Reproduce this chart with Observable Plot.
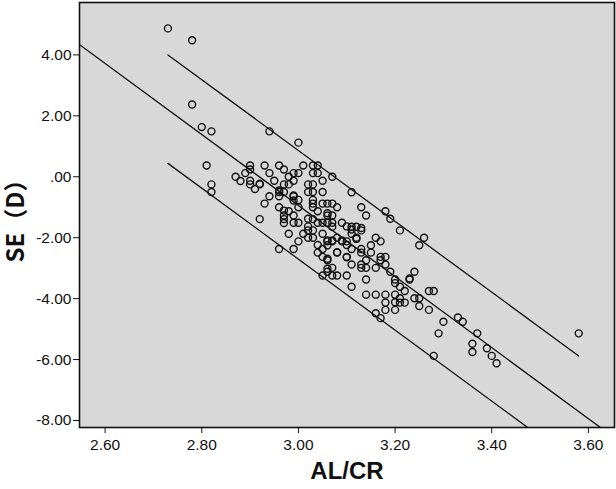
<!DOCTYPE html>
<html>
<head>
<meta charset="utf-8">
<script src="https://cdn.jsdelivr.net/npm/d3@7"></script>
<script src="https://cdn.jsdelivr.net/npm/@observablehq/plot@0.6"></script>
<style>
  html, body { margin: 0; padding: 0; background: #ffffff; }
  #chart { width: 616px; height: 489px; }
  svg { font-family: "Liberation Sans", Arial, sans-serif; }
</style>
</head>
<body>
<div id="chart"></div>
<script>
// AL/CR values (x) and spherical equivalent SE (D) values (y)
const alcr = [
  2.73,2.78,2.78,2.80,2.82,2.81,2.82,2.82,2.94,3.00,3.58,
  2.87,2.88,2.89,2.90,2.90,2.90,2.90,2.91,2.92,2.93,2.94,2.95,2.94,2.93,2.92,
  2.96,2.97,2.98,2.99,3.00,3.01,2.96,2.96,2.97,2.97,2.98,2.99,2.99,2.99,3.00,
  2.96,2.97,2.98,2.97,2.99,2.99,3.00,3.00,2.98,2.96,2.99,3.00,3.01,3.02,3.02,
  3.02,3.02,3.02,3.02,3.03,3.03,3.03,3.04,3.04,3.03,3.03,3.03,3.03,3.03,3.03,
  3.03,3.04,3.04,3.04,3.04,3.05,3.05,3.05,3.05,3.05,3.05,3.05,3.06,3.06,3.06,
  3.06,3.06,3.06,3.06,3.07,3.07,3.07,3.07,3.07,3.07,3.07,3.07,3.08,3.08,3.08,
  3.08,3.09,3.09,3.10,3.10,3.10,3.10,3.11,3.11,3.11,3.11,3.11,3.11,3.12,3.12,
  3.13,3.13,3.13,3.13,3.13,3.13,3.14,3.14,3.14,3.14,3.14,3.15,3.15,3.16,3.16,
  3.16,3.16,3.17,3.17,3.17,3.17,3.18,3.18,3.18,3.18,3.18,3.18,3.19,3.19,3.20,
  3.20,3.20,3.20,3.21,3.21,3.21,3.21,3.22,3.22,3.23,3.24,3.24,3.25,3.25,3.25,
  3.26,3.27,3.27,3.28,3.28,3.29,3.30,3.33,3.34,3.37,3.36,3.36,3.39,3.40,3.41,
  2.92,2.96,2.97,2.97,2.99,3.06,3.10,3.11,3.13,3.06,3.07,3.09,3.12,3.06,3.08,
  3.10,3.06,3.05,3.20,3.23
];
const se = [
  4.87,4.48,2.37,1.63,1.49,0.37,-0.25,-0.50,1.49,1.12,-5.14,
  0.00,-0.14,0.12,0.37,0.24,-0.13,-0.25,-0.40,-0.25,0.37,0.12,-0.13,-0.64,-0.88,-1.39,
  0.37,0.24,0.00,0.12,0.12,0.37,-0.50,-0.64,-0.25,-0.50,-0.25,-0.13,-0.64,-0.78,-0.76,
  -1.00,-1.27,-1.13,-1.39,-1.27,-1.51,-1.00,-1.51,-1.87,-2.37,-2.37,-2.12,-1.87,-2.00,-1.76,
  -1.63,-1.38,-0.25,-0.50,-0.25,0.37,0.12,0.37,0.12,-0.50,-0.76,-0.88,-1.00,-1.39,-1.76,
  -2.00,-1.13,-1.51,-2.24,-2.49,-0.13,-0.50,-0.88,-1.51,-1.87,-2.37,-2.63,-0.88,-1.27,-1.51,
  -2.12,-2.25,-2.74,-3.12,0.00,-0.88,-1.27,-1.51,-1.64,-2.12,-2.99,-3.24,-1.00,-2.00,-2.49,
  -3.24,-1.51,-2.12,-2.12,-2.24,-2.63,-3.24,-0.51,-1.64,-1.87,-2.37,-2.88,-3.61,-1.64,-2.00,
  -1.00,-1.76,-2.37,-2.49,-2.88,-2.99,-1.27,-2.74,-2.99,-3.37,-3.87,-2.25,-2.49,-2.00,-2.99,
  -3.87,-4.48,-2.12,-2.63,-2.74,-4.64,-1.13,-2.63,-2.88,-3.87,-4.13,-4.37,-1.38,-3.12,-3.37,
  -3.49,-3.87,-4.37,-1.76,-3.61,-3.99,-4.13,-3.75,-4.13,-3.37,-3.12,-3.99,-3.99,-4.24,-2.25,
  -2.00,-3.75,-4.37,-3.75,-5.88,-5.14,-4.76,-4.62,-4.76,-5.14,-5.48,-5.75,-5.63,-5.88,-6.12,
  -0.23,-0.45,-1.11,-1.52,-0.61,-1.20,-1.63,-1.73,-1.68,-2.09,-2.09,-2.09,-2.04,-2.69,-2.48,
  -2.64,-3.02,-3.24,-4.12,-3.34
];

// Fitted line and the two bounding lines (end points)
const fitX = [2.54, 3.66];
const fitY = [4.42, -8.64];
const upperX = [2.73, 3.58];
const upperY = [4.00, -5.88];
const lowerX = [2.73, 3.58];
const lowerY = [0.44, -9.46];

const xTicks = [2.6, 2.8, 3.0, 3.2, 3.4, 3.6];
const yTicks = [4, 2, 0, -2, -4, -6, -8];
const xTitle = "AL/CR";
const yTitle = "SE（D）";

const points = alcr.map((x, i) => ({x, y: se[i]}));
const seg = (xs, ys) => xs.map((x, i) => ({x, y: ys[i]}));

const yFmt = d => d === 0 ? ".00" : (d < 0 ? "-" : "") + Math.abs(d).toFixed(2);

const chart = Plot.plot({
  width: 616,
  height: 489,
  marginLeft: 79,
  marginRight: 2,
  marginTop: 2,
  marginBottom: 62,
  style: {fontSize: "15px", fontFamily: "'Liberation Sans', Arial, sans-serif", color: "#111", background: "#fff"},
  x: {domain: [2.547, 3.654]},
  y: {domain: [-8.23, 5.72]},
  marks: [
    Plot.frame({fill: "#d8d8d8", stroke: null}),
    Plot.line(seg(fitX, fitY), {x: "x", y: "y", stroke: "#111", strokeWidth: 1.3, clip: true}),
    Plot.line(seg(upperX, upperY), {x: "x", y: "y", stroke: "#111", strokeWidth: 1.3, clip: true}),
    Plot.line(seg(lowerX, lowerY), {x: "x", y: "y", stroke: "#111", strokeWidth: 1.3, clip: true}),
    Plot.dot(points, {x: "x", y: "y", r: 3.5, stroke: "#111", strokeWidth: 1.4, fill: "none"}),
    Plot.frame({stroke: "#111", strokeWidth: 1.6}),
    Plot.axisX({ticks: xTicks, tickFormat: d => d.toFixed(2), tickSize: 6, tickPadding: 5, label: null, fontSize: 15.5}),
    Plot.axisY({ticks: yTicks, tickFormat: yFmt, tickSize: 6, tickPadding: 2, label: null, fontSize: 15.5}),
    Plot.text([xTitle], {frameAnchor: "bottom", dy: 51, text: d => d, fontSize: 24, fontWeight: "bold"}),
    Plot.text([yTitle], {frameAnchor: "left", dx: -63, rotate: -90, textAnchor: "middle", lineAnchor: "middle",
      text: d => d, fontSize: 24, fontWeight: "bold",
      fontFamily: "'Noto Sans CJK SC', 'Liberation Sans', sans-serif"})
  ]
});
document.getElementById("chart").appendChild(chart);
</script>
</body>
</html>
